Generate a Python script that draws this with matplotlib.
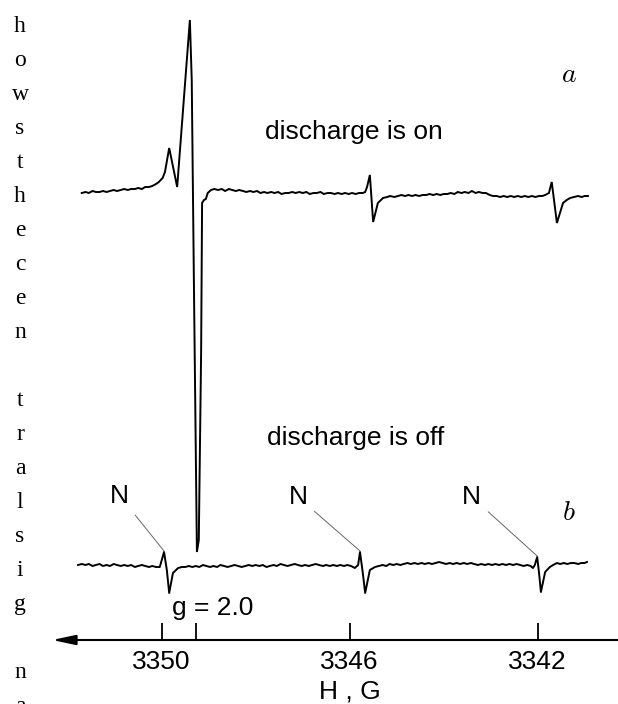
import numpy as np
import matplotlib.pyplot as plt

plt.rcParams['font.family'] = 'Liberation Sans'
plt.rcParams['mathtext.fontset'] = 'cm'

# EPR spectra: (field H in G, signal, arb. units)
# a - discharge on
spec_a = [
    (3351.70, -3), (3351.62, -2), (3351.55, -3), (3351.47, -1), (3351.40, -2),
    (3351.32, -2), (3351.25, -1), (3351.17, -2), (3351.10, -1), (3351.02, 0),
    (3350.95, -1), (3350.87, 0), (3350.80, 1), (3350.72, 0), (3350.65, 1),
    (3350.57, 1), (3350.50, 2), (3350.42, 1), (3350.35, 3), (3350.27, 3),
    (3350.20, 4), (3350.12, 6), (3350.06, 8), (3349.98, 12), (3349.93, 18),
    (3349.84, 42), (3349.67, 3), (3349.40, 170), (3349.36, 110), (3349.31, -110),
    (3349.25, -362), (3349.21, -350), (3349.16, -160), (3349.14, -13), (3349.10, -10),
    (3349.06, -9), (3349.02, -3), (3348.95, 0), (3348.88, 1), (3348.80, 0),
    (3348.72, 1), (3348.65, -1), (3348.57, 1), (3348.50, 0), (3348.42, -1),
    (3348.35, 0), (3348.27, -1), (3348.20, -2), (3348.12, -1), (3348.05, -2),
    (3347.97, -1), (3347.90, -3), (3347.82, -2), (3347.75, -3), (3347.67, -2),
    (3347.60, -3), (3347.52, -2), (3347.45, -4), (3347.37, -3), (3347.30, -3),
    (3347.22, -2), (3347.15, -3), (3347.07, -2), (3347.00, -3), (3346.92, -2),
    (3346.85, -4), (3346.77, -3), (3346.70, -3), (3346.62, -2), (3346.55, -4),
    (3346.47, -3), (3346.40, -3), (3346.32, -4), (3346.25, -3), (3346.17, -4),
    (3346.10, -3), (3346.02, -4), (3345.95, -3), (3345.87, -4), (3345.80, -3),
    (3345.72, -3), (3345.67, -2), (3345.63, 3), (3345.57, 15), (3345.50, -32),
    (3345.40, -13), (3345.29, -8), (3345.20, -7), (3345.14, -6), (3345.05, -7),
    (3344.97, -6), (3344.90, -5), (3344.82, -6), (3344.75, -5), (3344.67, -6),
    (3344.60, -5), (3344.52, -6), (3344.45, -5), (3344.37, -5), (3344.30, -4),
    (3344.22, -5), (3344.15, -4), (3344.07, -5), (3344.00, -4), (3343.92, -4),
    (3343.85, -3), (3343.77, -4), (3343.70, -2), (3343.62, -3), (3343.55, -2),
    (3343.47, -3), (3343.40, -1), (3343.32, -3), (3343.25, -2), (3343.17, -3),
    (3343.10, -3), (3343.02, -5), (3342.95, -6), (3342.87, -6), (3342.80, -7),
    (3342.72, -6), (3342.65, -7), (3342.57, -6), (3342.50, -7), (3342.42, -6),
    (3342.35, -7), (3342.27, -6), (3342.20, -7), (3342.12, -6), (3342.05, -7),
    (3341.97, -6), (3341.90, -6), (3341.84, -5), (3341.76, -3), (3341.70, 8),
    (3341.59, -33), (3341.46, -13), (3341.38, -10), (3341.31, -8), (3341.22, -7),
    (3341.14, -6), (3341.06, -7), (3341.00, -6), (3340.93, -6),
]

# b - discharge off
spec_b = [
    (3351.78, 0), (3351.70, 1), (3351.62, 0), (3351.55, 1), (3351.47, -1),
    (3351.40, 0), (3351.32, 1), (3351.25, -1), (3351.17, 0), (3351.10, -1),
    (3351.02, 1), (3350.95, 0), (3350.87, -1), (3350.80, 0), (3350.72, -1),
    (3350.65, 0), (3350.57, -2), (3350.50, -1), (3350.42, 0), (3350.35, -1),
    (3350.27, -2), (3350.20, -1), (3350.12, -2), (3350.04, -2), (3349.95, 13),
    (3349.89, -5), (3349.84, -28), (3349.76, -8), (3349.65, -3), (3349.57, -2),
    (3349.50, -2), (3349.42, -1), (3349.35, -2), (3349.27, -1), (3349.20, -2),
    (3349.12, 0), (3349.05, -1), (3348.97, -2), (3348.90, -1), (3348.82, -2),
    (3348.75, 0), (3348.67, -1), (3348.60, -2), (3348.52, -1), (3348.45, 0),
    (3348.37, -1), (3348.30, -2), (3348.22, -1), (3348.15, 0), (3348.07, -1),
    (3348.00, 0), (3347.92, -1), (3347.85, 0), (3347.77, -2), (3347.70, -1),
    (3347.62, 0), (3347.55, -1), (3347.47, 1), (3347.40, 0), (3347.32, -1),
    (3347.25, 0), (3347.17, 1), (3347.10, 0), (3347.02, -1), (3346.95, 0),
    (3346.87, -1), (3346.80, 0), (3346.72, 1), (3346.65, 0), (3346.57, -1),
    (3346.50, 0), (3346.42, -1), (3346.35, 0), (3346.27, -1), (3346.20, 0),
    (3346.12, -1), (3346.05, 0), (3345.97, -1), (3345.89, -3), (3345.82, 0),
    (3345.78, 13), (3345.72, -8), (3345.67, -28), (3345.57, -5), (3345.46, -2),
    (3345.38, -1), (3345.30, 0), (3345.22, -1), (3345.15, 1), (3345.07, 0),
    (3345.00, 1), (3344.92, 0), (3344.85, 1), (3344.77, 2), (3344.70, 1),
    (3344.62, 2), (3344.55, 1), (3344.47, 2), (3344.40, 1), (3344.32, 2),
    (3344.25, 1), (3344.17, 2), (3344.10, 3), (3344.02, 2), (3343.95, 1),
    (3343.87, 2), (3343.80, 1), (3343.72, 2), (3343.65, 1), (3343.57, 2),
    (3343.50, 1), (3343.42, 2), (3343.35, 1), (3343.27, 0), (3343.20, 1),
    (3343.12, 0), (3343.05, 1), (3342.97, 0), (3342.90, 1), (3342.82, 0),
    (3342.75, 1), (3342.67, 0), (3342.60, 1), (3342.52, 0), (3342.45, 1),
    (3342.37, 0), (3342.30, -1), (3342.22, 0), (3342.15, -1), (3342.10, -3),
    (3342.06, 0), (3342.01, 8), (3341.97, -8), (3341.93, -27), (3341.84, -7),
    (3341.74, -2), (3341.67, 0), (3341.59, 2), (3341.52, 1), (3341.44, 2),
    (3341.37, 1), (3341.29, 2), (3341.22, 2), (3341.14, 1), (3341.07, 2),
    (3341.00, 2), (3340.95, 3),
]

offset_a = 450
offset_b = 75

ticks = [3350, 3349.27, 3346, 3342]
tick_labels = ['3350', '', '3346', '3342']

# nitrogen lines in spectrum b and where their labels sit
n_lines = [3349.95, 3345.78, 3342.01]
n_label_pos = [(3350.89, 144), (3347.10, 143), (3343.40, 143)]

side_text = "howsthecen tralsig na"

fig = plt.figure(figsize=(6.18, 7.04), dpi=100)
ax = fig.add_axes([0, 64 / 704, 1, 640 / 704])

fa, sa = np.array(spec_a).T
fb, sb = np.array(spec_b).T
ax.plot(fa, sa + offset_a, color='k', lw=1.4, solid_joinstyle='miter')
ax.plot(fb, sb + offset_b, color='k', lw=1.4)

ax.set_xlim(3353.44, 3340.29)
ax.set_ylim(0, 640)
for s in ax.spines.values():
    s.set_visible(False)
ax.set_yticks([])
ax.set_xticks(ticks, tick_labels)
ax.tick_params(axis='x', direction='in', length=12, width=1.3, pad=7,
               labelsize=19)

# field axis with arrow pointing to higher field
ax.annotate('', xy=(3352.33, 0), xytext=(3340.29, 0), annotation_clip=False,
            arrowprops=dict(arrowstyle='-|>,head_length=1.4,head_width=0.3',
                            color='k', lw=1.5, shrinkA=0, shrinkB=0))
ax.set_xlabel('H , G', fontsize=19)
ax.xaxis.set_label_coords(350 / 618, -0.0625)

b_lookup = dict(spec_b)
for h, (tx, ty) in zip(n_lines, n_label_pos):
    ax.annotate('N', xy=(h, b_lookup[h] + offset_b + 1), xytext=(tx, ty),
                ha='center', va='center', fontsize=19,
                arrowprops=dict(arrowstyle='-', color='#666666', lw=0.7,
                                shrinkA=4, shrinkB=0))

ax.text(3348.91, 25, 'g = 2.0', ha='center', va='baseline', fontsize=19)
ax.text(3345.92, 501, 'discharge is on', ha='center', va='baseline', fontsize=19)
ax.text(3345.88, 195, 'discharge is off', ha='center', va='baseline', fontsize=19)
ax.text(3341.33, 565, '$a$', ha='center', va='center', fontsize=20)
ax.text(3341.33, 127, '$b$', ha='center', va='center', fontsize=20)

for k, ch in enumerate(side_text):
    if ch != ' ':
        fig.text(20 / 618, 1 - (32 + 34 * k) / 704, ch, ha='center',
                 va='baseline', fontsize=17, family='Liberation Serif')

fig.savefig('out.png', dpi=100)
